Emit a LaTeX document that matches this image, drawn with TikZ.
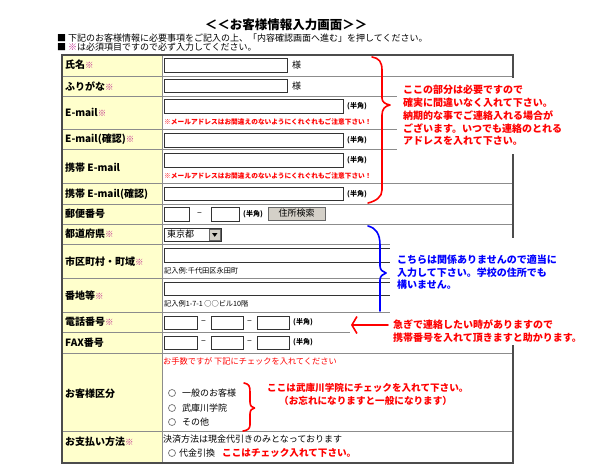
\documentclass[tikz,border=0pt]{standalone}
\usepackage{fontspec}
\setmainfont{Noto Sans CJK JP}
\usetikzlibrary{arrows.meta}
\definecolor{yel}{RGB}{255,255,204}
\definecolor{reqc}{RGB}{190,40,140}
\definecolor{annred}{RGB}{255,0,0}
\definecolor{annblue}{RGB}{0,0,255}
\definecolor{btngray}{RGB}{212,208,200}
\newcommand\reqmk{{\color{reqc}\fontsize{8.5}{8.5}\selectfont\bfseries ※}}
\begin{document}
\begin{tikzpicture}[x=1pt,y=-1pt,
  lab/.style={anchor=west,inner sep=0,font=\fontsize{10}{12}\selectfont\bfseries},
  txt/.style={anchor=west,inner sep=0,font=\fontsize{9}{11}\selectfont},
  tiny/.style={anchor=west,inner sep=0,font=\fontsize{7}{8}\selectfont\bfseries},
  note/.style={anchor=west,inner sep=0,font=\fontsize{6.7}{8}\selectfont\bfseries,text=annred},
  ex/.style={anchor=west,inner sep=0,font=\fontsize{7.2}{8}\selectfont},
  ann/.style={anchor=west,inner sep=0,font=\fontsize{10}{12}\selectfont\bfseries},
  inbox/.style={draw=black!80,line width=1pt,fill=white},
  rowline/.style={draw=black!45,line width=0.8pt},
  outline/.style={draw=black!70,line width=1.5pt},
  cover/.style={fill=white,draw=none},
  brace/.style={line width=1.6pt,line cap=round,line join=round},
  radio/.style={circle,draw=black!55,line width=0.7pt,fill=white,minimum size=7pt,inner sep=0}]
\useasboundingbox[fill=white] (0,0) rectangle (600,472);

% header
\node[inner sep=0,font=\fontsize{12.5}{14}\selectfont\bfseries] (title) at (286,25) {＜＜お客様情報入力画面＞＞};
\node[txt] (h1) at (57,38) {■ 下記のお客様情報に必要事項をご記入の上、「内容確認画面へ進む」を押してください。};
\node[txt] (h2) at (57,47) {■ {\color{reqc}\bfseries ※}は必須項目ですので必ず入力してください。};

% table
\fill[yel] (62,55) rectangle (162,463);
\foreach \yy in {76,96,129,149,183,204,224,244,278,312,332,353,431}
  \draw[rowline] (62,\yy) -- (513,\yy);
\draw[rowline] (162,55) -- (162,463);
\draw[outline] (62,55) rectangle (513,463);

% labels
\node[lab] (l1) at (65,65) {氏名\reqmk};
\node[lab] (l2) at (65,86) {ふりがな\reqmk};
\node[lab] (l3) at (65,112) {E-mail\reqmk};
\node[lab] (l4) at (65,139) {E-mail(確認)\reqmk};
\node[lab] (l5) at (65,168) {携帯 E-mail};
\node[lab] (l6) at (65,194) {携帯 E-mail(確認)};
\node[lab] (l7) at (65,214) {郵便番号};
\node[lab] (l8) at (65,234) {都道府県\reqmk};
\node[lab] (l9) at (65,262) {市区町村・町域\reqmk};
\node[lab] (l10) at (65,296) {番地等\reqmk};
\node[lab] (l11) at (65,322) {電話番号\reqmk};
\node[lab] (l12) at (65,343) {FAX番号};
\node[lab] (l13) at (65,394) {お客様区分};
\node[lab] (l14) at (65,442) {お支払い方法\reqmk};

% inputs
\draw[inbox] (164,58) rectangle (287,72);
\node[txt] (sama1) at (292,65) {様};
\draw[inbox] (164,79) rectangle (287,92);
\node[txt] (sama2) at (292,86) {様};
\draw[inbox] (164,99) rectangle (343,113);
\node[tiny] (hk1) at (347,106) {(半角)};
\node[note] (n1) at (164,122) {※メールアドレスはお間違えのないようにくれぐれもご注意下さい！};
\draw[inbox] (164,133) rectangle (343,147);
\node[tiny] (hk2) at (347,140) {(半角)};
\draw[inbox] (164,153) rectangle (343,167);
\node[tiny] (hk3) at (347,160) {(半角)};
\node[note] (n2) at (164,176) {※メールアドレスはお間違えのないようにくれぐれもご注意下さい！};
\draw[inbox] (164,187) rectangle (343,200);
\node[tiny] (hk4) at (347,194) {(半角)};

% postal
\draw[inbox] (164,207) rectangle (189,221);
\node[txt] (d1) at (197,214) {–};
\draw[inbox] (211,207) rectangle (239,221);
\node[tiny] (hk5) at (243,214) {(半角)};
\node[draw=black!60,line width=0.8pt,fill=btngray,minimum width=57pt,minimum height=13pt,inner sep=0,font=\fontsize{9}{10}\selectfont] (btn) at (296.5,213.5) {住所検索};

% prefecture
\draw[inbox] (164,228) rectangle (221,241);
\node[txt] (pref) at (167,234.5) {東京都};
\draw[fill=btngray,draw=black!60,line width=0.6pt] (209.5,229.5) rectangle (220,240);
\fill (212,233) -- (217.5,233) -- (214.75,236.8) -- cycle;

% address
\draw[inbox] (164,248) rectangle (420,262);
\node[ex] (ex1) at (164,271) {記入例:千代田区永田町};
\draw[inbox] (164,282) rectangle (420,295);
\node[ex] (ex2) at (164,304) {記入例1-7-1 ○○ビル10階};

% phone
\foreach \yt/\yb in {316/329,336/349}{
  \draw[inbox] (164,\yt) rectangle (197,\yb);
  \draw[inbox] (211,\yt) rectangle (243,\yb);
  \draw[inbox] (257,\yt) rectangle (289,\yb);
}
\node[txt] (d2) at (201,322.5) {–};
\node[txt] (d3) at (247,322.5) {–};
\node[tiny] (hk6) at (293,322.5) {(半角)};
\node[txt] (d4) at (201,342.5) {–};
\node[txt] (d5) at (247,342.5) {–};
\node[tiny] (hk7) at (293,342.5) {(半角)};

% customer type
\node[anchor=west,inner sep=0,font=\fontsize{8.2}{9}\selectfont,text=annred] (ct) at (163,361) {お手数ですが 下記にチェックを入れてください};
\node[radio] (r1) at (172,393) {};
\node[txt] (o1) at (182,393) {一般のお客様};
\node[radio] (r2) at (172,408) {};
\node[txt] (o2) at (182,408) {武庫川学院};
\node[radio] (r3) at (172,422) {};
\node[txt] (o3) at (182,422) {その他};
\draw[brace,annred] (244,383) .. controls (249,384) and (250,386) .. (250,392) -- (250,402) .. controls (250,406) and (252,407.5) .. (254.5,408) .. controls (252,408.5) and (250,410) .. (250,414) -- (250,425) .. controls (250,429) and (247,430.5) .. (243,431);
\node[anchor=west,inner sep=0,font=\fontsize{9.6}{11}\selectfont\bfseries,text=annred] (c1) at (267,388) {ここは武庫川学院にチェックを入れて下さい。};
\node[anchor=west,inner sep=0,font=\fontsize{9.6}{11}\selectfont\bfseries,text=annred] (c2) at (279,401) {（お忘れになりますと一般になります）};

% payment
\node[txt] (pay) at (163,439) {決済方法は現金代引きのみとなっております};
\node[radio] (r4) at (172,453) {};
\node[txt] (o4) at (179,453) {代金引換};
\node[anchor=west,inner sep=0,font=\fontsize{9.6}{11}\selectfont\bfseries,text=annred] (c3) at (222,453) {ここはチェック入れて下さい。};

% annotation covers
\fill[cover] (397,78) rectangle (600,154);
\fill[cover] (390,238) rectangle (600,313.5);
\fill[cover] (350,314) rectangle (600,345);

% red annotation
\draw[brace,annred] (372,57) .. controls (379,58) and (382,62) .. (382,70) -- (382,98) .. controls (382,102) and (385,104) .. (390,105) .. controls (385,106) and (382,109) .. (382,115) -- (382,190) .. controls (382,197) and (376,201) .. (368,203);
\node[ann,text=annred] (a1) at (403,90) {ここの部分は必要ですので};
\node[ann,text=annred] (a2) at (403,102.7) {確実に間違いなく入れて下さい。};
\node[ann,text=annred] (a3) at (403,115.4) {納期的な事でご連絡入れる場合が};
\node[ann,text=annred] (a4) at (403,128.1) {ございます。いつでも連絡のとれる};
\node[ann,text=annred] (a5) at (403,140.8) {アドレスを入れて下さい。};

% blue annotation
\draw[brace,annblue] (368,226) .. controls (376,228) and (380,234) .. (380,245) -- (380,266) .. controls (380,270) and (383,272) .. (386,273) .. controls (383,274) and (380,276) .. (380,280) -- (380,311);
\node[ann,text=annblue] (b1) at (397,260) {こちらは関係ありませんので適当に};
\node[ann,text=annblue] (b2) at (397,272.5) {入力して下さい。学校の住所でも};
\node[ann,text=annblue] (b3) at (397,285) {構いません。};

% phone annotation
\coordinate (arS) at (388,325);
\coordinate (arE) at (351,325);
\draw[brace,annred,-{Straight Barb[length=5pt,width=17pt]}] (arS) -- (arE);
\node[ann,text=annred] (p1) at (393,325) {急ぎで連絡したい時がありますので};
\node[ann,text=annred] (p2) at (393,337.5) {携帯番号を入れて頂きますと助かります。};
\end{tikzpicture}
\end{document}
